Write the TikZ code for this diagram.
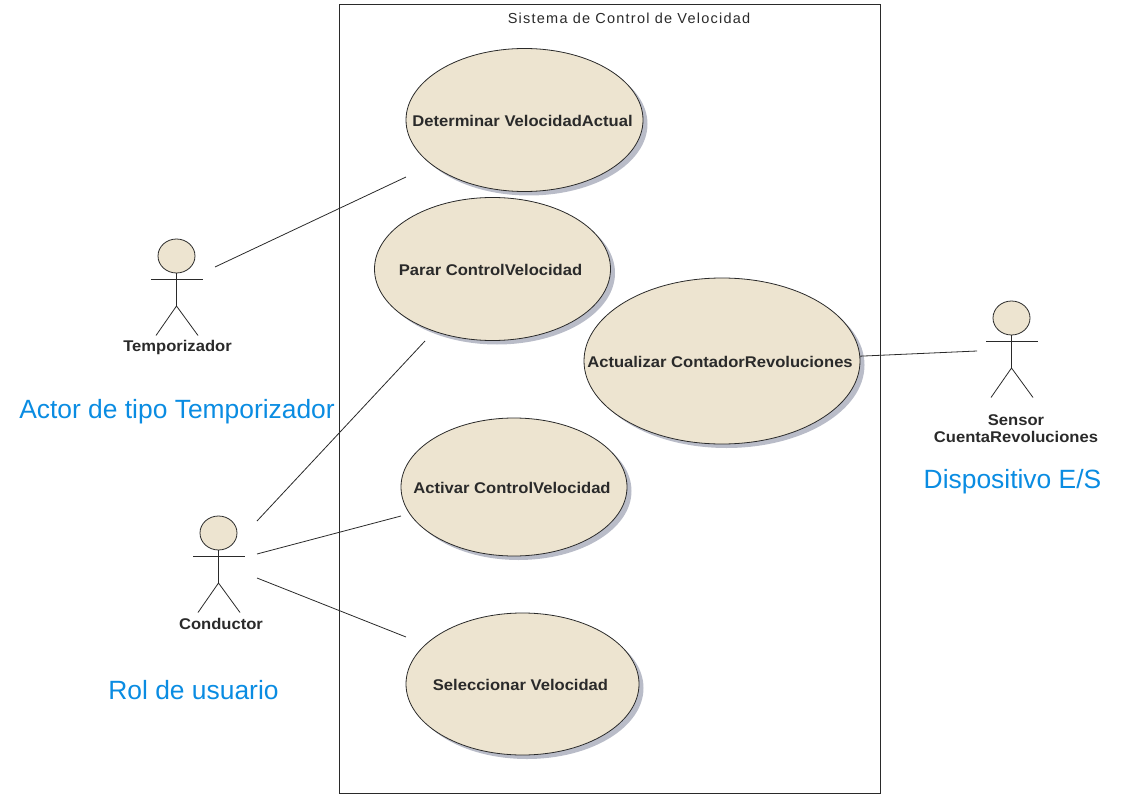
\documentclass[tikz,border=0pt]{standalone}
\usepackage{fontspec}
\setmainfont{Liberation Sans}
\newfontfamily\diagfont[FakeStretch=1.07]{Liberation Sans}
\usetikzlibrary{shapes.geometric, shadows}
\definecolor{usecasefill}{HTML}{EDE4D0}
\definecolor{shadowgray}{HTML}{B9BCC8}
\definecolor{notecolor}{HTML}{0A8CE2}
\definecolor{linecolor}{HTML}{2A2A2A}
\tikzset{
    usecase/.style={
        ellipse, draw=linecolor, line width=0.8pt, inner xsep=-60pt, inner ysep=0pt,
        fill=usecasefill, text=linecolor, text height=16pt, text depth=3pt,
        font=\diagfont\fontsize{15.5}{17}\selectfont\bfseries,
        execute at end node=\hspace{4pt},
        drop shadow={shadow xshift=4.5pt, shadow yshift=-4pt, fill=shadowgray, opacity=1}
    },
    actorlabel/.style={
        align=center, text=linecolor,
        font=\diagfont\fontsize{15.5}{17}\selectfont\bfseries
    },
    note/.style={text=notecolor, font=\fontsize{26.4}{30}\selectfont},
    assoc/.style={draw=linecolor, line width=0.8pt},
    actorhead/.style={
        ellipse, draw=linecolor, line width=0.8pt, inner sep=0pt,
        fill=usecasefill, minimum width=37pt, minimum height=34pt
    },
    actor/.pic={
        \node[actorhead] (-head) at (0,0) {};
        \draw[assoc] (-25.5,23.5) -- (26.5,23.5);
        \draw[assoc] (-head.south) -- (0,50);
        \draw[assoc] (-20.5,79.5) -- (0,50) -- (21.5,79.5);
    }
}
\begin{document}
\begin{tikzpicture}[x=1pt, y=-1pt]
\useasboundingbox (0,0) rectangle (1129,802);

% system boundary
\node[draw=linecolor, line width=0.8pt, minimum width=541pt, minimum height=789pt, inner sep=0pt] (sistema) at (610,399.25) {};
\node[font=\fontsize{14.5}{17}\selectfont\addfontfeature{LetterSpace=8.5}, text=linecolor] (titulo) at (629,18.5) {Sistema de Control de Velocidad};

% use cases
\node[usecase, minimum width=237pt, minimum height=143pt] (determinar) at (524.5,120) {Determinar VelocidadActual};
\node[usecase, minimum width=236pt, minimum height=143pt] (parar) at (492.5,269) {Parar ControlVelocidad};
\node[usecase, minimum width=276pt, minimum height=166pt] (actualizar) at (722,361) {Actualizar ContadorRevoluciones};
\node[usecase, minimum width=226pt, minimum height=138pt] (activar) at (514,487) {Activar ControlVelocidad};
\node[usecase, minimum width=233pt, minimum height=142pt] (seleccionar) at (522.5,684) {Seleccionar Velocidad};

% actors
\pic (temp) at (176.5,256) {actor};
\pic (cond) at (218.5,533) {actor};
\pic (sens) at (1011.5,318) {actor};

\node[actorlabel] (templabel) at (177.5,347) {Temporizador};
\node[actorlabel] (condlabel) at (221,624) {Conductor};
\node[actorlabel] (senslabel) at (1016,428.5) {Sensor\\CuentaRevoluciones};

% notes
\node[note] (tempnote) at (177,412) {Actor de tipo Temporizador};
\node[note] (condnote) at (193.5,690) {Rol de usuario};
\node[note] (sensnote) at (1012.5,482) {Dispositivo E/S};

% free ends of the associations
\coordinate (tempout) at (215,267);
\coordinate (detin) at (406,177);
\coordinate (condup) at (257,521);
\coordinate (parin) at (425,341);
\coordinate (condmid) at (257,554);
\coordinate (actin) at (401,516);
\coordinate (conddown) at (257,578);
\coordinate (selin) at (406,637);
\coordinate (sensin) at (977,351);

\draw[assoc] (tempout) -- (detin);
\draw[assoc] (condup) -- (parin);
\draw[assoc] (condmid) -- (actin);
\draw[assoc] (conddown) -- (selin);
\draw[assoc] (actualizar.2.5) -- (sensin);

\end{tikzpicture}
\end{document}
